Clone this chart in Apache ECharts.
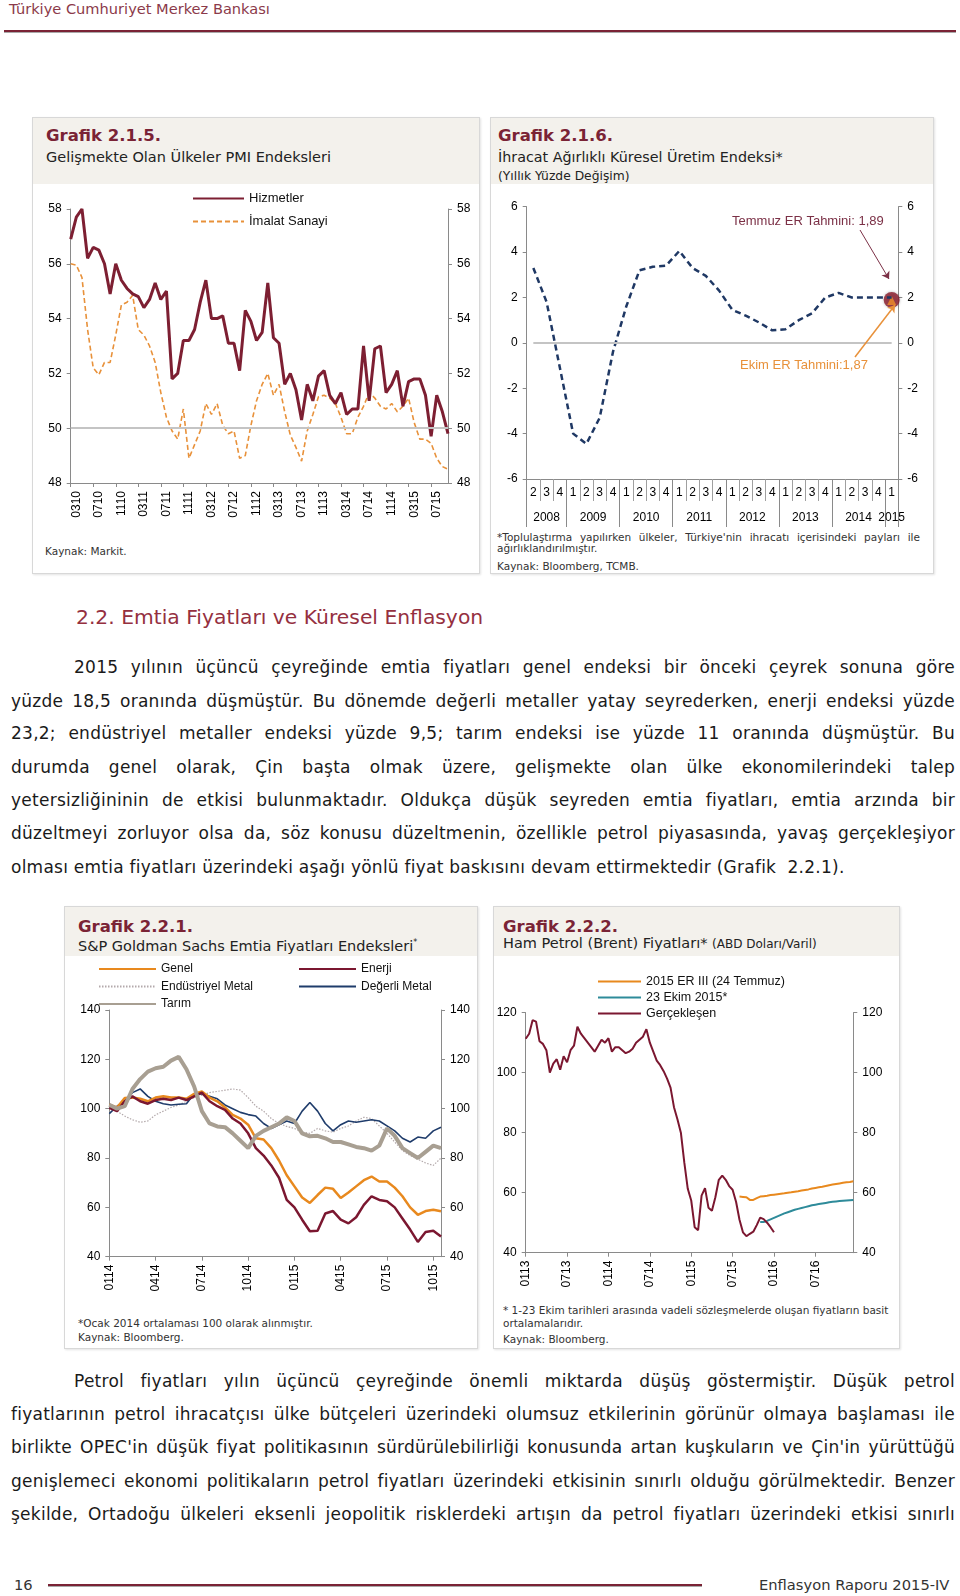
<!DOCTYPE html>
<html><head><meta charset="utf-8">
<script src="https://cdn.jsdelivr.net/npm/echarts@6/dist/echarts.min.js"></script>
<style>
body{margin:0;background:#fff;}
#page{position:relative;width:960px;height:1596px;overflow:hidden;font-family:"DejaVu Sans",sans-serif;color:#1a1a1a;}
.abs{position:absolute;white-space:nowrap;}
.panel{position:absolute;border:1px solid #d8d8d8;background:#fff;box-sizing:border-box;box-shadow:1px 1px 2px #e4e4e4;}
.phead{position:absolute;left:0;right:0;top:0;background:#f3f1ec;}
.gt{position:absolute;font-weight:bold;color:#7a2335;font-size:16.5px;line-height:19px;white-space:nowrap;}
.st{position:absolute;font-size:14.5px;line-height:18px;color:#222;white-space:nowrap;}
.note{position:absolute;font-size:10.5px;line-height:13px;color:#333;white-space:nowrap;}
.chart{position:absolute;}
.pl{position:absolute;left:11px;width:944px;font-size:17px;letter-spacing:0.25px;line-height:22px;height:22px;text-align:justify;text-align-last:justify;color:#1a1a1a;}
.pl.last{text-align:left;text-align-last:left;}
.rule{position:absolute;height:2px;background:#7a2335;box-shadow:0 1px 0 #a9a9a9;}
</style></head>
<body><div id="page">
<div class="abs" style="left:9px;top:0px;font-size:14.6px;color:#8b3a4a;">Türkiye Cumhuriyet Merkez Bankası</div>
<div class="rule" style="left:4px;width:952px;top:30px;"></div>

<div class="panel" style="left:32px;top:117px;width:448px;height:457px;"><div class="phead" style="height:66px;"></div></div>
<div class="gt" style="left:46px;top:126px;">Grafik 2.1.5.</div>
<div class="st" style="left:46px;top:148px;">Gelişmekte Olan Ülkeler PMI Endeksleri</div>
<div class="note" style="left:45px;top:545px;">Kaynak: Markit.</div>

<div class="panel" style="left:490px;top:117px;width:444px;height:457px;"><div class="phead" style="height:66px;"></div></div>
<div class="gt" style="left:498px;top:126px;">Grafik 2.1.6.</div>
<div class="st" style="left:498px;top:148px;font-size:14.3px;">İhracat Ağırlıklı Küresel Üretim Endeksi*</div>
<div class="st" style="left:498px;top:167px;font-size:12.3px;">(Yıllık Yüzde Değişim)</div>
<div class="note" style="left:497px;top:531px;width:423px;text-align:justify;text-align-last:justify;white-space:normal;height:13px;">*Toplulaştırma yapılırken ülkeler, Türkiye'nin ihracatı içerisindeki payları ile</div>
<div class="note" style="left:497px;top:542px;">ağırlıklandırılmıştır.</div>
<div class="note" style="left:497px;top:560px;">Kaynak: Bloomberg, TCMB.</div>

<div class="abs" style="left:76px;top:605px;font-size:20.3px;color:#95303f;">2.2. Emtia Fiyatları ve Küresel Enflasyon</div>

<div class="pl" style="left:74px;width:881px;top:656px;">2015 yılının üçüncü çeyreğinde emtia fiyatları genel endeksi bir önceki çeyrek sonuna göre</div>
<div class="pl" style="top:690px;">yüzde 18,5 oranında düşmüştür. Bu dönemde değerli metaller yatay seyrederken, enerji endeksi yüzde</div>
<div class="pl" style="top:722px;">23,2; endüstriyel metaller endeksi yüzde 9,5; tarım endeksi ise yüzde 11 oranında düşmüştür. Bu</div>
<div class="pl" style="top:756px;">durumda genel olarak, Çin başta olmak üzere, gelişmekte olan ülke ekonomilerindeki talep</div>
<div class="pl" style="top:789px;">yetersizliğininin de etkisi bulunmaktadır. Oldukça düşük seyreden emtia fiyatları, emtia arzında bir</div>
<div class="pl" style="top:822px;">düzeltmeyi zorluyor olsa da, söz konusu düzeltmenin, özellikle petrol piyasasında, yavaş gerçekleşiyor</div>
<div class="pl last" style="top:856px;white-space:pre;">olması emtia fiyatları üzerindeki aşağı yönlü fiyat baskısını devam ettirmektedir (Grafik  2.2.1).</div>

<div class="panel" style="left:64px;top:906px;width:414px;height:443px;"><div class="phead" style="height:49px;"></div></div>
<div class="gt" style="left:78px;top:917px;">Grafik 2.2.1.</div>
<div class="st" style="left:78px;top:934px;">S&amp;P Goldman Sachs Emtia Fiyatları Endeksleri<sup style="font-size:8px;">*</sup></div>
<div class="note" style="left:78px;top:1317px;">*Ocak 2014 ortalaması 100 olarak alınmıştır.</div>
<div class="note" style="left:78px;top:1331px;">Kaynak: Bloomberg.</div>

<div class="panel" style="left:493px;top:906px;width:407px;height:443px;"><div class="phead" style="height:49px;"></div></div>
<div class="gt" style="left:503px;top:917px;">Grafik 2.2.2.</div>
<div class="st" style="left:503px;top:934px;">Ham Petrol (Brent) Fiyatları* <span style="font-size:12px;">(ABD Doları/Varil)</span></div>
<div class="note" style="left:503px;top:1304px;">* 1-23 Ekim tarihleri arasında vadeli sözleşmelerde oluşan fiyatların basit</div>
<div class="note" style="left:503px;top:1317px;">ortalamalarıdır.</div>
<div class="note" style="left:503px;top:1333px;">Kaynak: Bloomberg.</div>

<div class="pl" style="left:74px;width:881px;top:1370px;">Petrol fiyatları yılın üçüncü çeyreğinde önemli miktarda düşüş göstermiştir. Düşük petrol</div>
<div class="pl" style="top:1403px;">fiyatlarının petrol ihracatçısı ülke bütçeleri üzerindeki olumsuz etkilerinin görünür olmaya başlaması ile</div>
<div class="pl" style="top:1436px;">birlikte OPEC'in düşük fiyat politikasının sürdürülebilirliği konusunda artan kuşkuların ve Çin'in yürüttüğü</div>
<div class="pl" style="top:1470px;">genişlemeci ekonomi politikaların petrol fiyatları üzerindeki etkisinin sınırlı olduğu görülmektedir. Benzer</div>
<div class="pl" style="top:1503px;">şekilde, Ortadoğu ülkeleri eksenli jeopolitik risklerdeki artışın da petrol fiyatları üzerindeki etkisi sınırlı</div>

<div class="abs" style="left:14px;top:1576px;font-size:14.7px;color:#333;">16</div>
<div class="rule" style="left:48px;width:654px;top:1584px;"></div>
<div class="abs" style="left:759px;top:1576px;font-size:14.7px;color:#333;">Enflasyon Raporu 2015-IV</div>

<div id="c1" class="chart" style="left:32px;top:183px;width:448px;height:390px;"></div>
<div id="c2" class="chart" style="left:490px;top:183px;width:444px;height:390px;"></div>
<div id="c3" class="chart" style="left:64px;top:955px;width:414px;height:360px;"></div>
<div id="c4" class="chart" style="left:493px;top:955px;width:407px;height:345px;"></div>
</div>
<script>
function monthSeq(startM, startY, count){const out=[];let m=startM,y=startY;for(let i=0;i<count;i++){out.push(String(m).padStart(2,'0')+String(y%100).padStart(2,'0'));m++;if(m>12){m=1;y++;}}return out;}

// ---- Grafik 2.1.5 ----
const pmiMonths = monthSeq(2,2010,68);
const hizmetler = [56.9,57.7,58.0,56.2,56.6,56.5,56.0,54.9,56.0,55.4,55.1,54.9,54.8,54.4,54.7,55.3,54.7,55.0,51.8,52.0,53.2,53.2,53.6,54.6,55.4,54.0,54.0,54.1,53.1,53.1,52.1,54.3,53.9,53.2,53.5,55.3,53.3,53.1,51.6,52.0,51.4,50.3,51.6,51.0,51.9,52.1,51.2,50.9,51.3,50.5,50.7,50.7,53.0,51.0,52.9,53.0,51.3,51.6,52.1,50.8,51.7,51.8,51.8,51.2,49.7,51.2,50.6,49.8];
const imalat = [56.0,55.95,55.5,53.6,52.2,51.95,52.4,52.4,53.4,54.5,54.6,54.85,53.6,53.4,53.0,52.4,51.3,50.4,49.9,49.6,50.7,48.9,49.4,49.9,50.9,50.5,50.9,50.1,49.8,49.9,48.9,49.0,50.1,51.0,51.6,52.0,51.2,51.6,50.6,49.75,49.3,48.8,49.9,50.5,51.15,51.2,51.1,50.9,50.4,49.8,49.8,50.4,50.8,51.3,51.1,50.8,50.7,50.9,50.6,50.8,51.1,50.2,49.6,49.6,49.45,48.9,48.6,48.5];

// ---- Grafik 2.1.6 ----
const quarters = ['2','3','4','1','2','3','4','1','2','3','4','1','2','3','4','1','2','3','4','1','2','3','4','1','2','3','4','1'];
const yearGroups = [['2008',3],['2009',4],['2010',4],['2011',4],['2012',4],['2013',4],['2014',4],['2015',1]];
const exportProd = [3.3,1.8,-1.1,-4.0,-4.45,-3.3,-0.4,1.6,3.2,3.35,3.4,4.05,3.3,2.95,2.3,1.45,1.2,0.9,0.55,0.6,1.0,1.3,2.0,2.2,2.0,2.0,2.0,2.0];
const temmuzTahmin = 1.89;
const ekimTahmin = 1.87;

// ---- Grafik 2.2.1 ----
const emtiaCats = (function(){const m=monthSeq(1,2014,22);const o=[];m.forEach(x=>{o.push(x);o.push(x+'.2');});return o;})();
const genel = [101.6,100.5,104.3,104.5,104,103,104.5,105,104.5,104.5,104,106,107,104.5,103,100.5,97.5,96,93.5,88,87.5,84,79,73,68.5,64,61.8,65,68,67.5,63.8,66,68.5,71,72.5,70.5,70.5,68,64.5,60,57,58.5,59,58.4];
const enerji = [100.3,99,103,105,103,102,103.5,104,103.5,104.5,103.5,105,106.5,103,101,99.5,96,94,90,84,81,77,72,63,60,55,50.3,50.5,57.5,58.5,55,53.5,56,61,64.5,63,62.5,60,55.5,51,46,50,50.5,48.2];
const degerli = [98,101,103,106.5,108,105,103,102,101.5,101.8,102,106,106,105,104,101.5,100,98.5,97.6,97,94,92,93.5,95,94,99,102.5,99,94,91,93.5,95,94.5,95,95.5,95,93,91,88,86.5,88.5,88,91,92.5];
const endustriyel = [101,99,97,95.5,94.5,95,97.5,99,100.5,101.5,103,104.5,105.5,106.5,107,107.5,108,107.5,104.5,101,99,96,94,92.8,92,90.5,90,92,91,90.5,92,93,95,96.5,96,93,90,86.5,83,81,79.5,78,77,80];
const tarim = [101.6,100,101,108,112,115,116.4,117,119.5,121,116,109,99,94,92.8,92.5,90,87,84,89,91,92.5,94,96.5,95,90,88.8,89,88,86.5,86.5,85.5,84.5,84,83,85,92,89,84,82,80,82.5,85,84];

// ---- Grafik 2.2.2 ----
const brentCats = (function(){const m=monthSeq(1,2013,48);const o=[];m.forEach(x=>{o.push(x);o.push(x+'.2');});return o;})();
const gerceklesen = [111.3,113,117.5,117,110.5,109.6,107.5,100,103,104.5,101,105.5,103.5,107.5,109,115.3,113,111.5,110,108.5,107,109,111,110,111.5,107,108.5,108.5,107.5,106.5,107,108,110,111,112,114.5,110,107,104,102.5,100.5,98,95,88.5,84.5,80,70,61.3,57.4,48.5,47.5,59,61.5,55,54,58.5,64.3,65.7,64.3,62.2,61,57,51,46.8,45.5,46.3,47,49.2,51.7,51.2,50,48.5,46.8];
const erIIIStart = 62;
const erIII = [58.7,58.6,58.5,57.6,57.6,58.2,58.7,58.85,59.0,59.2,59.35,59.5,59.65,59.8,60.0,60.15,60.35,60.5,60.7,60.9,61.1,61.4,61.6,61.8,62.0,62.25,62.5,62.7,62.9,63.1,63.3,63.45,63.6,63.8];
const ekimStart = 68;
const ekim2015 = [50.2,50.2,50.6,51.1,51.6,52.1,52.6,53.1,53.5,53.9,54.3,54.6,54.9,55.2,55.5,55.8,56.0,56.2,56.4,56.6,56.8,56.95,57.1,57.2,57.3,57.4,57.5,57.6];

const AX = '#8a8a8a';
const FF = 'Liberation Sans';
function yAx(min,max,interval,pos){
  return {type:'value',min:min,max:max,interval:interval,position:pos,
    axisLine:{show:true,lineStyle:{color:AX}},
    axisTick:{show:true,length:4,lineStyle:{color:AX}},
    splitLine:{show:false},
    axisLabel:{color:'#000',fontSize:12,fontFamily:FF,margin:9}};
}
function padTo(arr,start,len){const o=new Array(len).fill(null);arr.forEach((v,i)=>{o[start+i]=v;});return o;}
function base(){return {animation:false,textStyle:{fontFamily:FF}};}
const noSym = {opacity:0};

// Chart 1
const c1 = echarts.init(document.getElementById('c1'));
c1.setOption(Object.assign(base(),{
  legend:{orient:'vertical',left:155,top:4,itemWidth:51,itemHeight:14,itemGap:10,itemStyle:noSym,
    textStyle:{fontSize:13,color:'#111',fontFamily:FF},data:['Hizmetler','İmalat Sanayi']},
  grid:{left:38.7,top:26,width:377.3,height:274},
  xAxis:{type:'category',data:pmiMonths,boundaryGap:false,
    axisLine:{onZero:false,lineStyle:{color:AX}},
    axisTick:{show:true,length:4,interval:(i)=>i%4===0,lineStyle:{color:AX}},
    axisLabel:{rotate:90,interval:(i)=>i%4===1,fontSize:12,color:'#000',fontFamily:FF,margin:8}},
  yAxis:[yAx(48,58,2,'left'),yAx(48,58,2,'right')],
  series:[
    {type:'line',data:[],silent:true,markLine:{silent:true,symbol:'none',label:{show:false},lineStyle:{color:'#c4c4c4',width:2,type:'solid'},data:[{yAxis:50}]}},
    {name:'İmalat Sanayi',type:'line',data:imalat,symbol:'none',lineStyle:{color:'#e8913a',width:1.6,type:[5,3]},itemStyle:{color:'#e8913a'}},
    {name:'Hizmetler',type:'line',data:hizmetler,symbol:'none',lineStyle:{color:'#7d1f32',width:3},itemStyle:{color:'#7d1f32'}}
  ]
}));

// Chart 2
const yearBounds=[0];const yearCenters=[];
yearGroups.forEach(g=>{const s=yearBounds[yearBounds.length-1];yearCenters.push(s+g[1]/2);yearBounds.push(s+g[1]);});
const c2 = echarts.init(document.getElementById('c2'));
c2.setOption(Object.assign(base(),{
  grid:{left:36.7,top:23.7,width:371.6,height:272.3},
  xAxis:[
    {type:'category',data:quarters,boundaryGap:true,
      axisLine:{onZero:false,lineStyle:{color:AX}},
      axisTick:{show:true,interval:0,length:22,lineStyle:{color:'#a0a0a0'}},
      axisLabel:{interval:0,fontSize:12,color:'#000',fontFamily:FF,margin:8}},
    {type:'value',min:0,max:yearBounds[yearBounds.length-1],position:'bottom',
      axisLine:{show:false,onZero:false},splitLine:{show:false},
      axisTick:{show:true,customValues:yearBounds,length:48,lineStyle:{color:AX}},
      axisLabel:{customValues:yearCenters,margin:33,fontSize:12,color:'#000',fontFamily:FF,
        formatter:(v)=>{const k=yearCenters.findIndex(c=>Math.abs(c-v)<1e-6);return k>=0?yearGroups[k][0]:'';}}}
  ],
  yAxis:[yAx(-6,6,2,'left'),yAx(-6,6,2,'right')],
  graphic:[
    {type:'text',left:242,top:32,style:{text:'Temmuz ER Tahmini: 1,89',fill:'#7b3046',font:'13px "Liberation Sans"'}},
    {type:'text',left:250,top:176,style:{text:'Ekim ER Tahmini:1,87',fill:'#e8913a',font:'13px "Liberation Sans"'}}
  ],
  series:[
    {type:'line',data:exportProd,symbol:'none',lineStyle:{color:'#1f3864',width:2.5,type:[6,4]},
      markLine:{silent:true,label:{show:false},data:[
        [{coord:[0,0],symbol:'none',lineStyle:{color:'#c4c4c4',width:2,type:'solid'}},{coord:[quarters.length-1,0],symbol:'none'}],
        [{x:370,y:47,symbol:'none',lineStyle:{color:'#7b3046',width:1,type:'solid'}},{x:399,y:96,symbol:'arrow',symbolSize:7}],
        [{x:365,y:174,symbol:'none',lineStyle:{color:'#e8913a',width:1.5,type:'solid'}},{x:405,y:122,symbol:'arrow',symbolSize:7}]
      ]}},
    {type:'scatter',data:[[quarters.length-1,temmuzTahmin]],symbol:'circle',symbolSize:16,itemStyle:{color:'#8b1a2b',shadowColor:'rgba(0,0,0,0.35)',shadowBlur:3}},
    {type:'scatter',data:[[quarters.length-1,ekimTahmin]],symbol:'triangle',symbolSize:9,itemStyle:{color:'#f0902a'}}
  ]
}));

// Chart 3
const c3 = echarts.init(document.getElementById('c3'));
const lab3 = (i)=>i%6===0;
const leg3 = {orient:'vertical',top:3,itemWidth:57,itemHeight:12,itemGap:5.5,itemStyle:noSym,textStyle:{fontSize:12,color:'#111',fontFamily:FF}};
c3.setOption(Object.assign(base(),{
  legend:[
    Object.assign({left:29,data:['Genel','Endüstriyel Metal','Tarım']},leg3),
    Object.assign({left:229,data:['Enerji','Değerli Metal']},leg3)
  ],
  grid:{left:45.3,top:55,width:331.7,height:246.7},
  xAxis:{type:'category',data:emtiaCats,boundaryGap:false,
    axisLine:{onZero:false,lineStyle:{color:AX}},
    axisTick:{show:true,length:4,interval:lab3,lineStyle:{color:AX}},
    axisLabel:{rotate:90,interval:lab3,fontSize:12,color:'#000',fontFamily:FF,margin:8,formatter:(v)=>v.split('.')[0]}},
  yAxis:[yAx(40,140,20,'left'),yAx(40,140,20,'right')],
  series:[
    {name:'Endüstriyel Metal',type:'line',data:endustriyel,symbol:'none',lineStyle:{color:'#b3a9ab',width:1.2,type:[1.5,1.5]},itemStyle:{color:'#b3a9ab'}},
    {name:'Değerli Metal',type:'line',data:degerli,symbol:'none',lineStyle:{color:'#1f3c6b',width:1.6},itemStyle:{color:'#1f3c6b'}},
    {name:'Genel',type:'line',data:genel,symbol:'none',lineStyle:{color:'#e8891e',width:2.5},itemStyle:{color:'#e8891e'}},
    {name:'Enerji',type:'line',data:enerji,symbol:'none',lineStyle:{color:'#7b1730',width:2.5},itemStyle:{color:'#7b1730'}},
    {name:'Tarım',type:'line',data:tarim,symbol:'none',lineStyle:{color:'#a89f92',width:4},itemStyle:{color:'#a89f92'}}
  ]
}));

// Chart 4
const c4 = echarts.init(document.getElementById('c4'));
const lab4 = (i)=>i%12===0;
const N4 = brentCats.length;
c4.setOption(Object.assign(base(),{
  legend:{orient:'vertical',left:99,top:15,itemWidth:43,itemHeight:13,itemGap:3,itemStyle:noSym,textStyle:{fontSize:12.5,color:'#111',fontFamily:FF},
    data:['2015 ER III (24 Temmuz)','23 Ekim 2015*','Gerçekleşen']},
  grid:{left:32.7,top:57.7,width:327.6,height:240},
  xAxis:{type:'category',data:brentCats,boundaryGap:false,
    axisLine:{onZero:false,lineStyle:{color:AX}},
    axisTick:{show:true,length:4,interval:lab4,lineStyle:{color:AX}},
    axisLabel:{rotate:90,interval:lab4,fontSize:12,color:'#000',fontFamily:FF,margin:8,formatter:(v)=>v.split('.')[0]}},
  yAxis:[yAx(40,120,20,'left'),yAx(40,120,20,'right')],
  series:[
    {name:'2015 ER III (24 Temmuz)',type:'line',data:padTo(erIII,erIIIStart,N4),symbol:'none',lineStyle:{color:'#e8891e',width:2},itemStyle:{color:'#e8891e'}},
    {name:'23 Ekim 2015*',type:'line',data:padTo(ekim2015,ekimStart,N4),symbol:'none',lineStyle:{color:'#2e8b9a',width:2},itemStyle:{color:'#2e8b9a'}},
    {name:'Gerçekleşen',type:'line',data:padTo(gerceklesen,0,N4),symbol:'none',lineStyle:{color:'#7b1730',width:2},itemStyle:{color:'#7b1730'}}
  ]
}));
</script>
</body></html>
